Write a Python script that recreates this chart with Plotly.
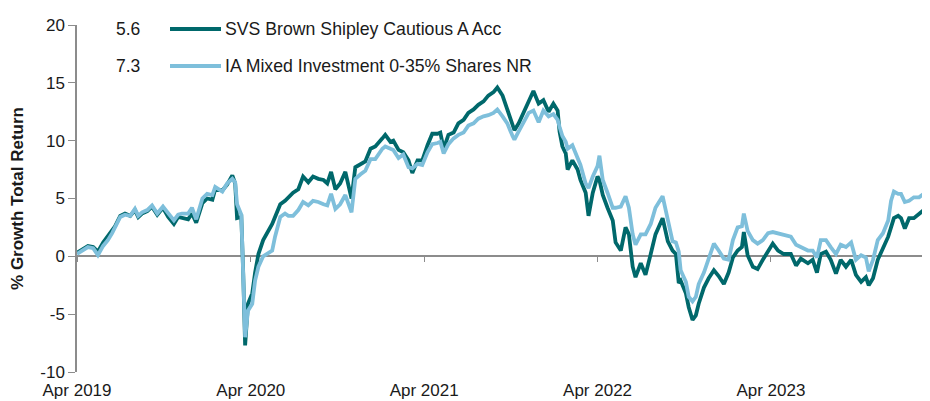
import plotly.graph_objects as go

dates = [
    "2019-04-01", "2019-04-09", "2019-04-18", "2019-04-24", "2019-05-05", "2019-05-15", "2019-05-26",
    "2019-06-05", "2019-06-14", "2019-06-20", "2019-07-01", "2019-07-11", "2019-07-22", "2019-08-01",
    "2019-08-08", "2019-08-16", "2019-08-27", "2019-09-06", "2019-09-17", "2019-09-29", "2019-10-10",
    "2019-10-22", "2019-10-31", "2019-11-08", "2019-11-21", "2019-11-29", "2019-12-08", "2019-12-21",
    "2019-12-31", "2020-01-11", "2020-01-17", "2020-02-01", "2020-02-11", "2020-02-22", "2020-02-28",
    "2020-03-03", "2020-03-12", "2020-03-16", "2020-03-20", "2020-03-26", "2020-04-04", "2020-04-10",
    "2020-04-17", "2020-04-27", "2020-05-06", "2020-05-16", "2020-05-22", "2020-06-02", "2020-06-12",
    "2020-06-19", "2020-06-29", "2020-07-10", "2020-07-20", "2020-07-31", "2020-08-10", "2020-08-21",
    "2020-09-01", "2020-09-09", "2020-09-17", "2020-09-26", "2020-10-06", "2020-10-17", "2020-10-30",
    "2020-11-07", "2020-11-18", "2020-11-28", "2020-12-09", "2020-12-19", "2021-01-03", "2021-01-09",
    "2021-01-20", "2021-01-26", "2021-02-06", "2021-02-16", "2021-02-27", "2021-03-07", "2021-03-18",
    "2021-03-28", "2021-04-08", "2021-04-18", "2021-04-29", "2021-05-05", "2021-05-12", "2021-05-22",
    "2021-06-02", "2021-06-12", "2021-06-23", "2021-07-03", "2021-07-14", "2021-07-24", "2021-08-04",
    "2021-08-14", "2021-08-25", "2021-09-02", "2021-09-13", "2021-09-23", "2021-10-04", "2021-10-08",
    "2021-10-17", "2021-10-27", "2021-11-07", "2021-11-17", "2021-11-28", "2021-12-08", "2021-12-19",
    "2021-12-29", "2022-01-07", "2022-01-11", "2022-01-17", "2022-01-24", "2022-01-28", "2022-02-07",
    "2022-02-18", "2022-02-24", "2022-03-07", "2022-03-13", "2022-03-22", "2022-04-01", "2022-04-05",
    "2022-04-12", "2022-04-22", "2022-05-03", "2022-05-09", "2022-05-20", "2022-05-30", "2022-06-06",
    "2022-06-14", "2022-06-20", "2022-07-01", "2022-07-11", "2022-07-22", "2022-08-01", "2022-08-16",
    "2022-08-27", "2022-09-06", "2022-09-13", "2022-09-19", "2022-09-23", "2022-10-04", "2022-10-10",
    "2022-10-18", "2022-10-25", "2022-10-31", "2022-11-11", "2022-11-21", "2022-12-02", "2022-12-12",
    "2022-12-23", "2023-01-02", "2023-01-11", "2023-01-21", "2023-01-30", "2023-02-03", "2023-02-11",
    "2023-02-22", "2023-03-04", "2023-03-15", "2023-03-26", "2023-04-05", "2023-04-16", "2023-04-28",
    "2023-05-13", "2023-05-24", "2023-06-03", "2023-06-18", "2023-06-28", "2023-07-07", "2023-07-15",
    "2023-07-26", "2023-08-05", "2023-08-16", "2023-08-26", "2023-09-06", "2023-09-17", "2023-09-27",
    "2023-10-08", "2023-10-18", "2023-10-24", "2023-11-02", "2023-11-12", "2023-11-23", "2023-12-04",
    "2023-12-10", "2023-12-16", "2023-12-25", "2023-12-31", "2024-01-08", "2024-01-17", "2024-01-27",
    "2024-02-07", "2024-02-17", "2024-02-28",
]

svs_cautious = [
    0.3, 0.5, 0.7, 0.9, 0.8, 0.4, 1.2,
    1.8, 2.2, 2.6, 3.5, 3.7, 3.5, 4.0,
    3.4, 3.7, 3.9, 4.3, 3.6, 4.2, 3.4,
    2.8, 3.4, 3.3, 3.2, 3.7, 2.9, 4.6,
    5.0, 4.9, 5.8, 5.7, 6.2, 7.0, 6.3,
    3.3, 3.4, -1.5, -7.7, -4.1, -3.2, -1.4,
    0.2, 1.4, 2.0, 2.8, 3.4, 4.5, 4.8,
    5.1, 5.5, 5.8, 6.9, 6.4, 6.9, 6.7,
    6.6, 6.3, 7.3, 5.8, 6.3, 7.3, 5.0,
    7.7, 8.0, 8.2, 9.3, 9.5, 10.2, 10.5,
    9.9, 10.0, 9.2, 9.0, 8.3, 7.2, 8.3,
    8.3, 9.6, 10.6, 10.6, 10.7, 9.3, 10.5,
    10.7, 11.5, 11.8, 12.4, 12.7, 13.1, 13.4,
    13.9, 14.2, 14.6, 13.9, 12.7, 11.5, 10.9,
    11.5, 12.4, 13.3, 14.3, 13.2, 13.5, 12.5,
    13.2, 12.6, 10.8, 9.5, 8.9, 7.5, 8.3,
    7.5, 6.6, 5.5, 3.5, 5.5, 6.9, 6.6,
    5.3, 4.2, 3.1, 1.2, 0.5, 2.5, 1.9,
    -0.9, -1.8, -0.6, -1.6, 0.2, 1.9, 3.3,
    1.3, 0.5, 0.2, -2.3, -2.1, -3.2, -4.4,
    -5.5, -5.1, -4.1, -2.7, -1.9, -1.2, -1.7,
    -2.4, -1.4, -0.1, 0.5, 0.8, 2.1, 0.1,
    -0.9, -1.1, -0.3, 0.5, 1.1, 0.5, 0.2,
    0.2, -0.8, -0.2, -0.6, -0.3, -1.4, 0.2,
    0.4, -0.3, -1.5, -0.3, -0.9, -0.3, -1.6,
    -2.2, -1.8, -2.5, -1.9, -0.3, 0.7, 1.7,
    2.5, 3.3, 3.5, 3.3, 2.4, 3.3, 3.3,
    3.7, 4.0, 4.6,
]

ia_mixed = [
    0.2, 0.4, 0.6, 0.8, 0.7, 0.1, 0.9,
    1.4, 2.0, 2.5, 3.4, 3.6, 3.5, 4.1,
    3.5, 3.8, 4.0, 4.4, 3.7, 4.3, 3.7,
    3.1, 3.6, 3.7, 3.7, 4.2, 3.2, 5.0,
    5.4, 5.3, 6.0, 5.6, 6.3, 6.7, 6.4,
    4.5, 3.6, -1.3, -7.0, -4.7, -4.1, -2.1,
    -0.9, 0.0, 0.2, 0.5, 1.7, 3.4, 3.7,
    3.5, 3.5, 4.0, 4.7, 4.4, 4.8, 4.7,
    4.5, 4.4, 5.4, 4.1, 4.5, 5.3, 3.8,
    6.7, 7.1, 7.4, 8.4, 8.4, 9.3, 9.5,
    9.3, 9.2, 8.5, 8.8, 7.7, 7.6, 8.0,
    7.9, 9.0, 9.7, 9.8, 9.9, 8.9, 9.7,
    10.2, 10.5, 10.7, 11.3, 11.5, 11.9, 12.1,
    12.2, 12.4, 12.7, 12.1, 11.5, 10.4, 10.1,
    10.8, 11.5, 12.4, 12.6, 11.6, 12.6, 12.1,
    12.3, 11.8, 11.2, 10.4, 9.9, 9.3, 9.6,
    8.4, 7.9, 6.3, 5.9, 6.9, 7.8, 8.7,
    6.6, 5.5, 4.2, 4.2, 4.3, 5.2, 4.2,
    1.9, 1.0, 1.9, 1.9, 2.8, 4.2, 5.2,
    3.3, 1.3, 1.2, 0.4, -1.2, -2.2, -3.5,
    -3.9, -3.5, -2.4, -1.4, -0.3, 1.1, 0.5,
    -0.2, -0.3, 1.4, 2.5, 2.6, 3.7, 2.2,
    1.4, 1.1, 1.4, 2.0, 2.1, 2.0, 1.9,
    1.7, 1.0, 0.8, 0.5, 0.5, -0.1, 1.4,
    1.4, 0.8, 0.2, 1.0, 0.8, 1.2, -0.3,
    0.1, -0.1, -1.3, -0.3, 1.4, 2.0, 3.1,
    4.8, 5.6, 5.4, 5.4, 4.7, 4.8, 5.1,
    5.1, 5.4, 6.1,
]

series_names = ["SVS Brown Shipley Cautious A Acc", "IA Mixed Investment 0-35% Shares NR"]
series_returns = ["5.6", "7.3"]
series_colors = ["#00686B", "#7EBFDB"]

x_range = ["2019-04-01", "2024-03-01"]
y_range = [-10, 20]
y_ticks = [-10, -5, 0, 5, 10, 15, 20]
y_tick_text = ["-10", "-5", "0", "5", "10", "15", "20"]

FONT = "Liberation Sans, Arial, sans-serif"
TXT = "#1a1a1a"
AX = "#8c8c8c"

fig = go.Figure()
fig.add_trace(go.Scatter(x=dates, y=svs_cautious, mode="lines", name=series_names[0],
                         line=dict(color=series_colors[0], width=3.8), xaxis="x", yaxis="y"))
fig.add_trace(go.Scatter(x=dates, y=ia_mixed, mode="lines", name=series_names[1],
                         line=dict(color=series_colors[1], width=3.8), xaxis="x2", yaxis="y"))

zero_pos = (0 - y_range[0]) / (y_range[1] - y_range[0])

# page body has an 8px default margin, so the figure is sized/offset to compensate
fig.update_layout(
    width=922, height=393,
    margin=dict(l=69, r=0, t=17, b=29),
    paper_bgcolor="white", plot_bgcolor="white",
    showlegend=False,
    font=dict(family=FONT, size=17, color=TXT),
    xaxis=dict(
        type="date", range=x_range, showgrid=False, zeroline=False, showline=False,
        ticks="", tick0="2019-04-01", dtick="M12", tickformat="%b %Y",
        ticklabelstandoff=6, tickfont=dict(size=17, color=TXT), automargin=False,
    ),
    xaxis2=dict(
        type="date", range=x_range, overlaying="x", anchor="free", position=zero_pos,
        showgrid=False, zeroline=False, showline=False, showticklabels=False,
        ticks="outside", ticklen=5, tickcolor=AX, tickwidth=1,
        tick0="2019-04-01", dtick="M12", layer="below traces", automargin=False,
    ),
    yaxis=dict(
        range=y_range, tickvals=y_ticks, ticktext=y_tick_text, showgrid=False,
        zeroline=True, zerolinecolor=AX, zerolinewidth=1.5,
        showline=True, linecolor=AX, linewidth=1.5,
        ticks="outside", ticklen=7, tickcolor=AX, tickwidth=1,
        tickfont=dict(size=17, color=TXT), automargin=False,
        title=dict(text="<b>% Growth Total Return</b>", font=dict(size=17, color=TXT), standoff=13),
    ),
)

def px_x(px):
    return (px - 77) / 853.0

def px_y(py):
    return (372 - py) / 347.0

rows_y = [29, 66]
for i in range(2):
    yy = px_y(rows_y[i])
    fig.add_annotation(xref="paper", yref="paper", x=px_x(114), y=yy, text=series_returns[i],
                       showarrow=False, xanchor="left", yanchor="middle",
                       font=dict(size=17.5, color=TXT, family=FONT))
    fig.add_shape(type="line", xref="paper", yref="paper", x0=px_x(170), x1=px_x(221),
                  y0=yy, y1=yy, line=dict(color=series_colors[i], width=4))
    fig.add_annotation(xref="paper", yref="paper", x=px_x(223), y=yy, text=series_names[i],
                       showarrow=False, xanchor="left", yanchor="middle",
                       font=dict(size=17.7, color=TXT, family=FONT))

fig.write_html("out.html")
